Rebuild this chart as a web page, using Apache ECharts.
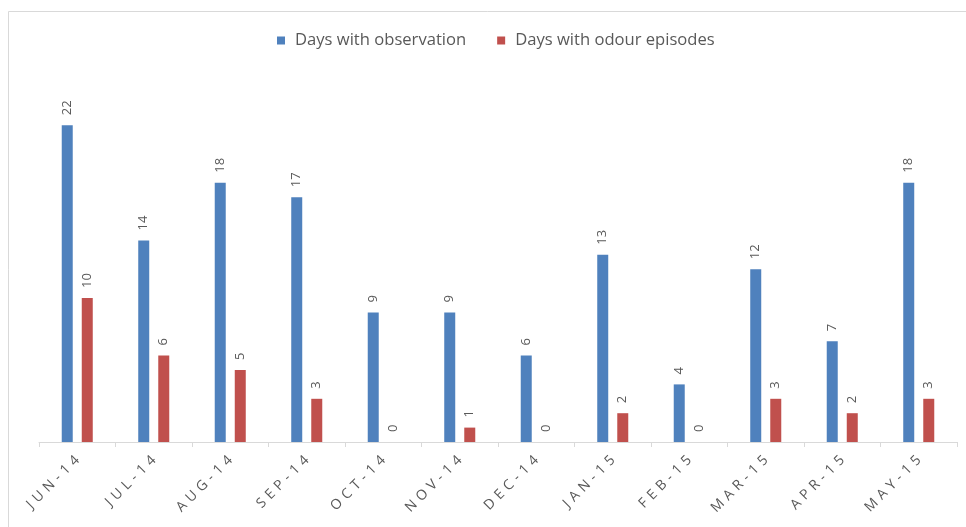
<!DOCTYPE html>
<html>
<head>
<meta charset="utf-8">
<script src="https://cdn.jsdelivr.net/npm/echarts@6/dist/echarts.min.js"></script>
<style>
html,body{margin:0;padding:0;background:#fff;}
#c{width:966px;height:527px;}
</style>
</head>
<body>
<div id="c"></div>
<script>
const categories = ['JUN-14','JUL-14','AUG-14','SEP-14','OCT-14','NOV-14','DEC-14','JAN-15','FEB-15','MAR-15','APR-15','MAY-15'];
const observation = [22,14,18,17,9,9,6,13,4,12,7,18];
const odour = [10,6,5,3,0,1,0,2,0,3,2,3];
const seriesNames = ['Days with observation','Days with odour episodes'];

const chart = echarts.init(document.getElementById('c'));
const spaced = s => s.split('').join('\u2004');
const labelCfg = {
  show: true, position: 'top', rotate: 90, align: 'left', verticalAlign: 'middle',
  distance: 10, color: '#595959', fontSize: 13, fontFamily: 'Open Sans'
};
chart.setOption({
  animation: false,
  backgroundColor: '#fff',
  graphic: [{
    type: 'rect', shape: {x: 8.5, y: 11.5, width: 1000, height: 600},
    style: {fill: 'none', stroke: '#d9d9d9', lineWidth: 1}, silent: true
  }],
  legend: {
    top: 32, left: 277, padding: 0, itemWidth: 8, itemHeight: 8, itemGap: 31,
    icon: 'rect',
    textStyle: {color: '#595959', fontSize: 16.6, fontFamily: 'Open Sans', padding: [0, 0, 0, 5]},
    data: seriesNames
  },
  grid: {left: 39, right: 9, top: 82, bottom: 85},
  xAxis: {
    type: 'category', data: categories,
    axisLine: {lineStyle: {color: '#d9d9d9'}},
    axisTick: {show: true, length: 5, lineStyle: {color: '#d9d9d9'}},
    axisLabel: {
      rotate: 45, margin: 16, color: '#595959', fontSize: 14, fontFamily: 'Open Sans',
      interval: 0, formatter: v => spaced(v)
    }
  },
  yAxis: {type: 'value', min: 0, max: 25, interval: 5, show: false, splitLine: {show: false}},
  series: [
    {name: seriesNames[0], type: 'bar', data: observation, barWidth: 11, barGap: '82%',
     itemStyle: {color: '#4f81bd'}, label: labelCfg},
    {name: seriesNames[1], type: 'bar', data: odour, barWidth: 11,
     itemStyle: {color: '#c0504d'}, label: labelCfg}
  ]
});
</script>
</body>
</html>
